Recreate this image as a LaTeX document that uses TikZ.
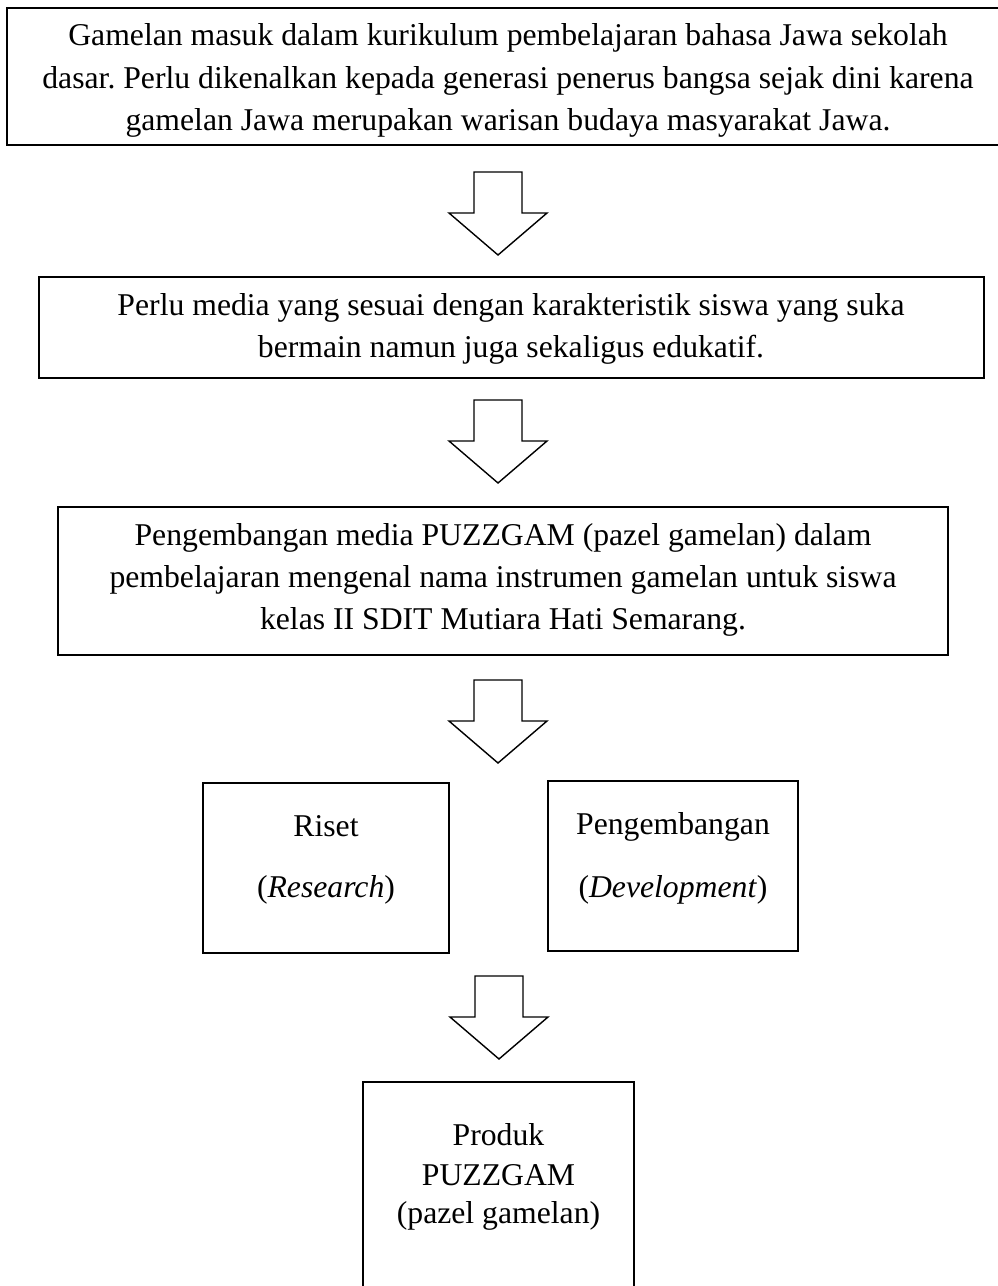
\documentclass[tikz,border=0pt]{standalone}
\usepackage{fontspec}
\setmainfont{Liberation Serif}
\frenchspacing
\begin{document}
\begin{tikzpicture}[x=1pt,y=-1pt,
  box/.style={draw,line width=2pt,rectangle,inner sep=0pt},
  txt/.style={anchor=base,inner sep=0pt,font=\fontsize{31.7}{38}\selectfont},
  blockarrow/.pic={\draw[line width=1.4pt,line join=miter,fill=white]
     (-24,0) -- (24,0) -- (24,41) -- (49,41) -- (0,83) -- (-49,41) -- (-24,41) -- cycle;}]
\useasboundingbox (0,0) rectangle (998,1286);
% box 1
\draw[line width=2pt] (7,8) rectangle (1010,145);
\node[box,draw=none,minimum width=1003pt,minimum height=137pt] (b1) at (508.5,76.5) {};
\node[txt] (t1a) at (508,45) {Gamelan masuk dalam kurikulum pembelajaran bahasa Jawa sekolah};
\node[txt] (t1b) at (508,88) {dasar. Perlu dikenalkan kepada generasi penerus bangsa sejak dini karena};
\node[txt] (t1c) at (508,130) {gamelan Jawa merupakan warisan budaya masyarakat Jawa.};
% box 2
\node[box,minimum width=945pt,minimum height=101pt] (b2) at (511.5,327.5) {};
\node[txt] (t2a) at (511,315) {Perlu media yang sesuai dengan karakteristik siswa yang suka};
\node[txt] (t2b) at (511,357) {bermain namun juga sekaligus edukatif.};
% box 3
\node[box,minimum width=890pt,minimum height=148pt] (b3) at (503,581) {};
\node[txt] (t3a) at (503,545) {Pengembangan media PUZZGAM (pazel gamelan) dalam};
\node[txt] (t3b) at (503,587) {pembelajaran mengenal nama instrumen gamelan untuk siswa};
\node[txt] (t3c) at (503,629) {kelas II SDIT Mutiara Hati Semarang.};
% research / development
\node[box,minimum width=246pt,minimum height=170pt] (b4) at (326,868) {};
\node[txt] (t4a) at (326,836) {Riset};
\node[txt] (t4b) at (326,897) {(\textit{Research})};
\node[box,minimum width=250pt,minimum height=170pt] (b5) at (673,866) {};
\node[txt] (t5a) at (673,834) {Pengembangan};
\node[txt] (t5b) at (673,897) {(\textit{Development})};
% product
\draw[line width=2pt] (363,1300) -- (363,1082) -- (634,1082) -- (634,1300);
\node[box,draw=none,minimum width=271pt,minimum height=204pt] (b6) at (498.5,1184) {};
\node[txt] (t6a) at (498.5,1145) {Produk};
\node[txt] (t6b) at (498.5,1185) {PUZZGAM};
\node[txt] (t6c) at (498.5,1223) {(pazel gamelan)};
% block arrows
\coordinate (a1) at (498,172);
\coordinate (a2) at (498,400);
\coordinate (a3) at (498,680);
\coordinate (a4) at (499,976);
\pic at (a1) {blockarrow};
\pic at (a2) {blockarrow};
\pic at (a3) {blockarrow};
\pic at (a4) {blockarrow};
\end{tikzpicture}
\end{document}
